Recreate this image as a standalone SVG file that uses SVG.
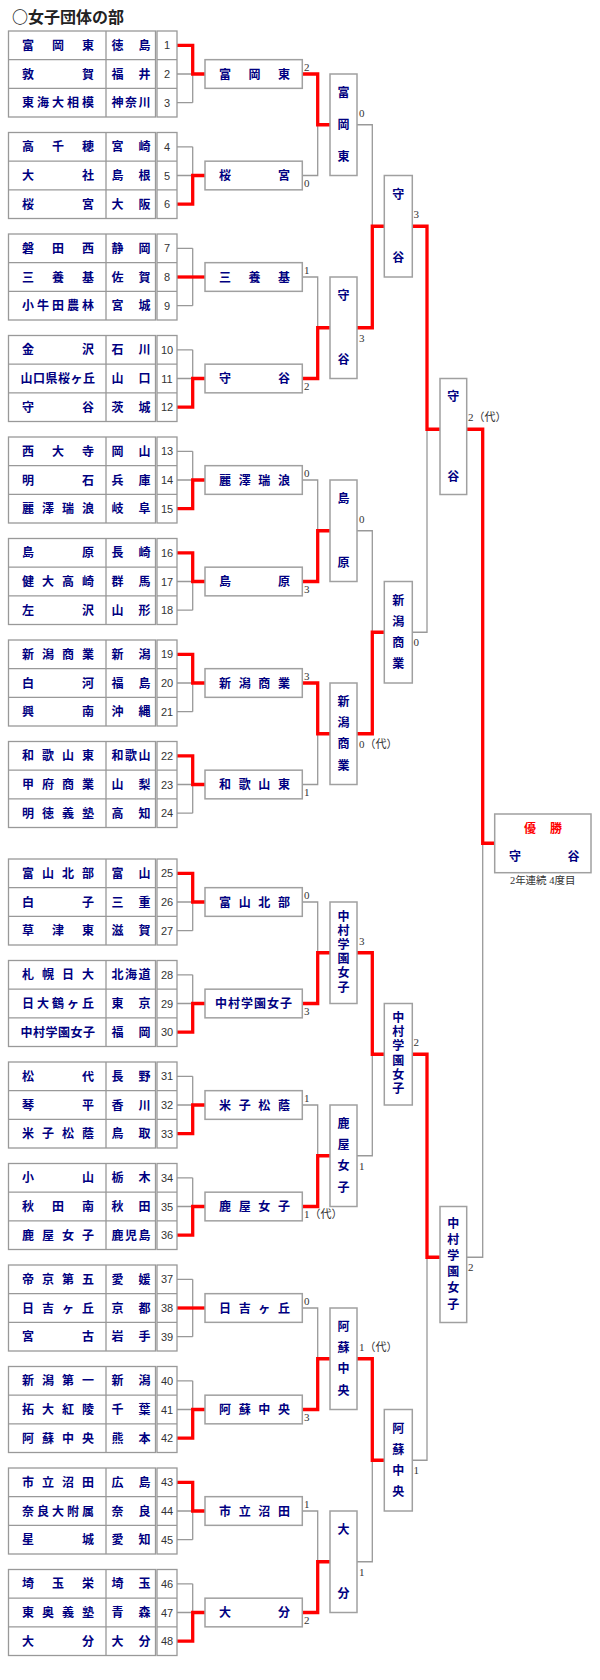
<svg xmlns="http://www.w3.org/2000/svg" xmlns:xlink="http://www.w3.org/1999/xlink" width="600" height="1680" viewBox="0 0 600 1680">
<style>
.tb{fill:#fff;stroke:#999;stroke-width:1.3}
.tl{fill:none;stroke:#999;stroke-width:1.3}
.bx{fill:#fff;stroke:#a0a0a0;stroke-width:1.5}
.nm{font-family:"Noto Sans CJK JP",sans-serif;font-size:12px;font-weight:bold;fill:#000080;text-anchor:middle}
.no{font-family:"Liberation Sans",Arial,sans-serif;font-size:11px;fill:#333;text-anchor:middle}
.sc{font-family:"Liberation Serif","Noto Sans CJK JP",serif;font-size:11px;fill:#333}
.ln{fill:none;stroke:#999;stroke-width:1.3}
.win{fill:none;stroke:#f00;stroke-width:3.3;stroke-linejoin:miter}
.ttl{font-family:"Noto Sans CJK JP",sans-serif;font-size:16px;font-weight:bold;fill:#222}
</style>
<defs>
<g id="frame">
<rect class="tb" x="8.5" y="0" width="147" height="86"/>
<rect class="tb" x="157" y="0" width="20" height="86"/>
<path class="tl" d="M8.5 28.67H155.5M8.5 57.33H155.5M106 0V86M157 28.67H177M157 57.33H177"/>
</g>
<path id="br" class="ln" d="M177 14.33H192.7M177 43H205M177 71.67H192.7M192.7 14.33V71.67"/>
</defs>
<rect width="600" height="1680" fill="#fff"/>
<text class="ttl" x="12" y="23">○女子団体の部</text>

<g id="connectors">
<g transform="translate(0,31)"><use href="#br"/><path class="win" d="M177 14.33H192.7V43H205"/></g>
<g transform="translate(0,132.5)"><use href="#br"/><path class="win" d="M177 71.67H192.7V43H205"/></g>
<g transform="translate(0,234)"><use href="#br"/><path class="win" d="M177 43H205"/></g>
<g transform="translate(0,335.5)"><use href="#br"/><path class="win" d="M177 71.67H192.7V43H205"/></g>
<g transform="translate(0,437)"><use href="#br"/><path class="win" d="M177 71.67H192.7V43H205"/></g>
<g transform="translate(0,538.5)"><use href="#br"/><path class="win" d="M177 14.33H192.7V43H205"/></g>
<g transform="translate(0,640)"><use href="#br"/><path class="win" d="M177 14.33H192.7V43H205"/></g>
<g transform="translate(0,741.5)"><use href="#br"/><path class="win" d="M177 14.33H192.7V43H205"/></g>
<g transform="translate(0,859)"><use href="#br"/><path class="win" d="M177 14.33H192.7V43H205"/></g>
<g transform="translate(0,960.5)"><use href="#br"/><path class="win" d="M177 71.67H192.7V43H205"/></g>
<g transform="translate(0,1062)"><use href="#br"/><path class="win" d="M177 71.67H192.7V43H205"/></g>
<g transform="translate(0,1163.5)"><use href="#br"/><path class="win" d="M177 71.67H192.7V43H205"/></g>
<g transform="translate(0,1265)"><use href="#br"/><path class="win" d="M177 43H205"/></g>
<g transform="translate(0,1366.5)"><use href="#br"/><path class="win" d="M177 71.67H192.7V43H205"/></g>
<g transform="translate(0,1468)"><use href="#br"/><path class="win" d="M177 14.33H192.7V43H205"/></g>
<g transform="translate(0,1569.5)"><use href="#br"/><path class="win" d="M177 71.67H192.7V43H205"/></g>
<path class="ln" d="M302.3 74H317.7V175.5H302.3M317.7 124.75H330M302.3 277H317.7V378.5H302.3M317.7 327.75H330M302.3 480H317.7V581.5H302.3M317.7 530.75H330M302.3 683H317.7V784.5H302.3M317.7 733.75H330M302.3 902H317.7V1003.5H302.3M317.7 952.75H330M302.3 1105H317.7V1206.5H302.3M317.7 1155.75H330M302.3 1308H317.7V1409.5H302.3M317.7 1358.75H330M302.3 1511H317.7V1612.5H302.3M317.7 1561.75H330"/>
<path class="ln" d="M357 124.75H372.3V327.75H357M372.3 226.25H384.3M357 530.75H372.3V733.75H357M372.3 632.25H384.3M357 952.75H372.3V1155.75H357M372.3 1054.25H384.3M357 1358.75H372.3V1561.75H357M372.3 1460.25H384.3"/>
<path class="ln" d="M412.3 226.25H427V632.25H412.3M427 429.25H440M412.3 1054.25H427V1460.25H412.3M427 1257.25H440"/>
<path class="ln" d="M466.7 429.25H482.7V1257.25H466.7M482.7 843.25H494.7"/>
<path class="win" d="M302.3 74H317.7V124.75H330M302.3 378.5H317.7V327.75H330M302.3 581.5H317.7V530.75H330M302.3 683H317.7V733.75H330M302.3 1003.5H317.7V952.75H330M302.3 1206.5H317.7V1155.75H330M302.3 1409.5H317.7V1358.75H330M302.3 1612.5H317.7V1561.75H330"/>
<path class="win" d="M357 327.75H372.3V226.25H384.3M357 733.75H372.3V632.25H384.3M357 952.75H372.3V1054.25H384.3M357 1358.75H372.3V1460.25H384.3"/>
<path class="win" d="M412.3 226.25H427V429.25H440M412.3 1054.25H427V1257.25H440"/>
<path class="win" d="M466.7 429.25H482.7V843.25H494.7"/>
</g>

<g id="t01" transform="translate(0,31)"><use href="#frame"/>
<text class="nm" x="28 58 88" y="18.8">富岡東</text><text class="nm" x="117.5 144.5" y="18.8">徳島</text><text class="no" x="167" y="18.3">1</text>
<text class="nm" x="28 88" y="47.5">敦賀</text><text class="nm" x="117.5 144.5" y="47.5">福井</text><text class="no" x="167" y="47">2</text>
<text class="nm" x="28 43 58 73 88" y="76.2">東海大相模</text><text class="nm" x="117.5 131 144.5" y="76.2">神奈川</text><text class="no" x="167" y="75.7">3</text></g>
<g id="t02" transform="translate(0,132.5)"><use href="#frame"/>
<text class="nm" x="28 58 88" y="18.8">高千穂</text><text class="nm" x="117.5 144.5" y="18.8">宮崎</text><text class="no" x="167" y="18.3">4</text>
<text class="nm" x="28 88" y="47.5">大社</text><text class="nm" x="117.5 144.5" y="47.5">島根</text><text class="no" x="167" y="47">5</text>
<text class="nm" x="28 88" y="76.2">桜宮</text><text class="nm" x="117.5 144.5" y="76.2">大阪</text><text class="no" x="167" y="75.7">6</text></g>
<g id="t03" transform="translate(0,234)"><use href="#frame"/>
<text class="nm" x="28 58 88" y="18.8">磐田西</text><text class="nm" x="117.5 144.5" y="18.8">静岡</text><text class="no" x="167" y="18.3">7</text>
<text class="nm" x="28 58 88" y="47.5">三養基</text><text class="nm" x="117.5 144.5" y="47.5">佐賀</text><text class="no" x="167" y="47">8</text>
<text class="nm" x="28 43 58 73 88" y="76.2">小牛田農林</text><text class="nm" x="117.5 144.5" y="76.2">宮城</text><text class="no" x="167" y="75.7">9</text></g>
<g id="t04" transform="translate(0,335.5)"><use href="#frame"/>
<text class="nm" x="28 88" y="18.8">金沢</text><text class="nm" x="117.5 144.5" y="18.8">石川</text><text class="no" x="167" y="18.3">10</text>
<text class="nm" x="26.5 39 51.5 64 76.5 89" y="47.5">山口県桜ヶ丘</text><text class="nm" x="117.5 144.5" y="47.5">山口</text><text class="no" x="167" y="47">11</text>
<text class="nm" x="28 88" y="76.2">守谷</text><text class="nm" x="117.5 144.5" y="76.2">茨城</text><text class="no" x="167" y="75.7">12</text></g>
<g id="t05" transform="translate(0,437)"><use href="#frame"/>
<text class="nm" x="28 58 88" y="18.8">西大寺</text><text class="nm" x="117.5 144.5" y="18.8">岡山</text><text class="no" x="167" y="18.3">13</text>
<text class="nm" x="28 88" y="47.5">明石</text><text class="nm" x="117.5 144.5" y="47.5">兵庫</text><text class="no" x="167" y="47">14</text>
<text class="nm" x="28 48 68 88" y="76.2">麗澤瑞浪</text><text class="nm" x="117.5 144.5" y="76.2">岐阜</text><text class="no" x="167" y="75.7">15</text></g>
<g id="t06" transform="translate(0,538.5)"><use href="#frame"/>
<text class="nm" x="28 88" y="18.8">島原</text><text class="nm" x="117.5 144.5" y="18.8">長崎</text><text class="no" x="167" y="18.3">16</text>
<text class="nm" x="28 48 68 88" y="47.5">健大高崎</text><text class="nm" x="117.5 144.5" y="47.5">群馬</text><text class="no" x="167" y="47">17</text>
<text class="nm" x="28 88" y="76.2">左沢</text><text class="nm" x="117.5 144.5" y="76.2">山形</text><text class="no" x="167" y="75.7">18</text></g>
<g id="t07" transform="translate(0,640)"><use href="#frame"/>
<text class="nm" x="28 48 68 88" y="18.8">新潟商業</text><text class="nm" x="117.5 144.5" y="18.8">新潟</text><text class="no" x="167" y="18.3">19</text>
<text class="nm" x="28 88" y="47.5">白河</text><text class="nm" x="117.5 144.5" y="47.5">福島</text><text class="no" x="167" y="47">20</text>
<text class="nm" x="28 88" y="76.2">興南</text><text class="nm" x="117.5 144.5" y="76.2">沖縄</text><text class="no" x="167" y="75.7">21</text></g>
<g id="t08" transform="translate(0,741.5)"><use href="#frame"/>
<text class="nm" x="28 48 68 88" y="18.8">和歌山東</text><text class="nm" x="117.5 131 144.5" y="18.8">和歌山</text><text class="no" x="167" y="18.3">22</text>
<text class="nm" x="28 48 68 88" y="47.5">甲府商業</text><text class="nm" x="117.5 144.5" y="47.5">山梨</text><text class="no" x="167" y="47">23</text>
<text class="nm" x="28 48 68 88" y="76.2">明徳義塾</text><text class="nm" x="117.5 144.5" y="76.2">高知</text><text class="no" x="167" y="75.7">24</text></g>
<g id="t09" transform="translate(0,859)"><use href="#frame"/>
<text class="nm" x="28 48 68 88" y="18.8">富山北部</text><text class="nm" x="117.5 144.5" y="18.8">富山</text><text class="no" x="167" y="18.3">25</text>
<text class="nm" x="28 88" y="47.5">白子</text><text class="nm" x="117.5 144.5" y="47.5">三重</text><text class="no" x="167" y="47">26</text>
<text class="nm" x="28 58 88" y="76.2">草津東</text><text class="nm" x="117.5 144.5" y="76.2">滋賀</text><text class="no" x="167" y="75.7">27</text></g>
<g id="t10" transform="translate(0,960.5)"><use href="#frame"/>
<text class="nm" x="28 48 68 88" y="18.8">札幌日大</text><text class="nm" x="117.5 131 144.5" y="18.8">北海道</text><text class="no" x="167" y="18.3">28</text>
<text class="nm" x="28 43 58 73 88" y="47.5">日大鶴ヶ丘</text><text class="nm" x="117.5 144.5" y="47.5">東京</text><text class="no" x="167" y="47">29</text>
<text class="nm" x="26.5 39 51.5 64 76.5 89" y="76.2">中村学園女子</text><text class="nm" x="117.5 144.5" y="76.2">福岡</text><text class="no" x="167" y="75.7">30</text></g>
<g id="t11" transform="translate(0,1062)"><use href="#frame"/>
<text class="nm" x="28 88" y="18.8">松代</text><text class="nm" x="117.5 144.5" y="18.8">長野</text><text class="no" x="167" y="18.3">31</text>
<text class="nm" x="28 88" y="47.5">琴平</text><text class="nm" x="117.5 144.5" y="47.5">香川</text><text class="no" x="167" y="47">32</text>
<text class="nm" x="28 48 68 88" y="76.2">米子松蔭</text><text class="nm" x="117.5 144.5" y="76.2">鳥取</text><text class="no" x="167" y="75.7">33</text></g>
<g id="t12" transform="translate(0,1163.5)"><use href="#frame"/>
<text class="nm" x="28 88" y="18.8">小山</text><text class="nm" x="117.5 144.5" y="18.8">栃木</text><text class="no" x="167" y="18.3">34</text>
<text class="nm" x="28 58 88" y="47.5">秋田南</text><text class="nm" x="117.5 144.5" y="47.5">秋田</text><text class="no" x="167" y="47">35</text>
<text class="nm" x="28 48 68 88" y="76.2">鹿屋女子</text><text class="nm" x="117.5 131 144.5" y="76.2">鹿児島</text><text class="no" x="167" y="75.7">36</text></g>
<g id="t13" transform="translate(0,1265)"><use href="#frame"/>
<text class="nm" x="28 48 68 88" y="18.8">帝京第五</text><text class="nm" x="117.5 144.5" y="18.8">愛媛</text><text class="no" x="167" y="18.3">37</text>
<text class="nm" x="28 48 68 88" y="47.5">日吉ヶ丘</text><text class="nm" x="117.5 144.5" y="47.5">京都</text><text class="no" x="167" y="47">38</text>
<text class="nm" x="28 88" y="76.2">宮古</text><text class="nm" x="117.5 144.5" y="76.2">岩手</text><text class="no" x="167" y="75.7">39</text></g>
<g id="t14" transform="translate(0,1366.5)"><use href="#frame"/>
<text class="nm" x="28 48 68 88" y="18.8">新潟第一</text><text class="nm" x="117.5 144.5" y="18.8">新潟</text><text class="no" x="167" y="18.3">40</text>
<text class="nm" x="28 48 68 88" y="47.5">拓大紅陵</text><text class="nm" x="117.5 144.5" y="47.5">千葉</text><text class="no" x="167" y="47">41</text>
<text class="nm" x="28 48 68 88" y="76.2">阿蘇中央</text><text class="nm" x="117.5 144.5" y="76.2">熊本</text><text class="no" x="167" y="75.7">42</text></g>
<g id="t15" transform="translate(0,1468)"><use href="#frame"/>
<text class="nm" x="28 48 68 88" y="18.8">市立沼田</text><text class="nm" x="117.5 144.5" y="18.8">広島</text><text class="no" x="167" y="18.3">43</text>
<text class="nm" x="28 43 58 73 88" y="47.5">奈良大附属</text><text class="nm" x="117.5 144.5" y="47.5">奈良</text><text class="no" x="167" y="47">44</text>
<text class="nm" x="28 88" y="76.2">星城</text><text class="nm" x="117.5 144.5" y="76.2">愛知</text><text class="no" x="167" y="75.7">45</text></g>
<g id="t16" transform="translate(0,1569.5)"><use href="#frame"/>
<text class="nm" x="28 58 88" y="18.8">埼玉栄</text><text class="nm" x="117.5 144.5" y="18.8">埼玉</text><text class="no" x="167" y="18.3">46</text>
<text class="nm" x="28 48 68 88" y="47.5">東奥義塾</text><text class="nm" x="117.5 144.5" y="47.5">青森</text><text class="no" x="167" y="47">47</text>
<text class="nm" x="28 88" y="76.2">大分</text><text class="nm" x="117.5 144.5" y="76.2">大分</text><text class="no" x="167" y="75.7">48</text></g>

<g id="r2-01" transform="translate(0,31)"><rect class="bx" x="205" y="28.67" width="97.3" height="28.67"/><text class="nm" x="225 254.5 284" y="47.5">富岡東</text></g>
<g id="r2-02" transform="translate(0,132.5)"><rect class="bx" x="205" y="28.67" width="97.3" height="28.67"/><text class="nm" x="225 284" y="47.5">桜宮</text></g>
<g id="r2-03" transform="translate(0,234)"><rect class="bx" x="205" y="28.67" width="97.3" height="28.67"/><text class="nm" x="225 254.5 284" y="47.5">三養基</text></g>
<g id="r2-04" transform="translate(0,335.5)"><rect class="bx" x="205" y="28.67" width="97.3" height="28.67"/><text class="nm" x="225 284" y="47.5">守谷</text></g>
<g id="r2-05" transform="translate(0,437)"><rect class="bx" x="205" y="28.67" width="97.3" height="28.67"/><text class="nm" x="225 244.7 264.3 284" y="47.5">麗澤瑞浪</text></g>
<g id="r2-06" transform="translate(0,538.5)"><rect class="bx" x="205" y="28.67" width="97.3" height="28.67"/><text class="nm" x="225 284" y="47.5">島原</text></g>
<g id="r2-07" transform="translate(0,640)"><rect class="bx" x="205" y="28.67" width="97.3" height="28.67"/><text class="nm" x="225 244.7 264.3 284" y="47.5">新潟商業</text></g>
<g id="r2-08" transform="translate(0,741.5)"><rect class="bx" x="205" y="28.67" width="97.3" height="28.67"/><text class="nm" x="225 244.7 264.3 284" y="47.5">和歌山東</text></g>
<g id="r2-09" transform="translate(0,859)"><rect class="bx" x="205" y="28.67" width="97.3" height="28.67"/><text class="nm" x="225 244.7 264.3 284" y="47.5">富山北部</text></g>
<g id="r2-10" transform="translate(0,960.5)"><rect class="bx" x="205" y="28.67" width="97.3" height="28.67"/><text class="nm" x="221 234 247 260 273 286" y="47.5">中村学園女子</text></g>
<g id="r2-11" transform="translate(0,1062)"><rect class="bx" x="205" y="28.67" width="97.3" height="28.67"/><text class="nm" x="225 244.7 264.3 284" y="47.5">米子松蔭</text></g>
<g id="r2-12" transform="translate(0,1163.5)"><rect class="bx" x="205" y="28.67" width="97.3" height="28.67"/><text class="nm" x="225 244.7 264.3 284" y="47.5">鹿屋女子</text></g>
<g id="r2-13" transform="translate(0,1265)"><rect class="bx" x="205" y="28.67" width="97.3" height="28.67"/><text class="nm" x="225 244.7 264.3 284" y="47.5">日吉ヶ丘</text></g>
<g id="r2-14" transform="translate(0,1366.5)"><rect class="bx" x="205" y="28.67" width="97.3" height="28.67"/><text class="nm" x="225 244.7 264.3 284" y="47.5">阿蘇中央</text></g>
<g id="r2-15" transform="translate(0,1468)"><rect class="bx" x="205" y="28.67" width="97.3" height="28.67"/><text class="nm" x="225 244.7 264.3 284" y="47.5">市立沼田</text></g>
<g id="r2-16" transform="translate(0,1569.5)"><rect class="bx" x="205" y="28.67" width="97.3" height="28.67"/><text class="nm" x="225 284" y="47.5">大分</text></g>

<g id="r3-1"><rect class="bx" x="330" y="74" width="27" height="101.5"/><text class="nm" x="343.5 343.5 343.5" y="97 128.75 160.5">富岡東</text></g>
<g id="r3-2"><rect class="bx" x="330" y="277" width="27" height="101.5"/><text class="nm" x="343.5 343.5" y="300 363.5">守谷</text></g>
<g id="r3-3"><rect class="bx" x="330" y="480" width="27" height="101.5"/><text class="nm" x="343.5 343.5" y="503 566.5">島原</text></g>
<g id="r3-4"><rect class="bx" x="330" y="683" width="27" height="101.5"/><text class="nm" x="343.5 343.5 343.5 343.5" y="706 727.2 748.3 769.5">新潟商業</text></g>
<g id="r3-5"><rect class="bx" x="330" y="902" width="27" height="101.5"/><text class="nm" x="343.5 343.5 343.5 343.5 343.5 343.5" y="920.5 934.7 948.9 963.1 977.3 991.5">中村学園女子</text></g>
<g id="r3-6"><rect class="bx" x="330" y="1105" width="27" height="101.5"/><text class="nm" x="343.5 343.5 343.5 343.5" y="1128 1149.2 1170.3 1191.5">鹿屋女子</text></g>
<g id="r3-7"><rect class="bx" x="330" y="1308" width="27" height="101.5"/><text class="nm" x="343.5 343.5 343.5 343.5" y="1331 1352.2 1373.3 1394.5">阿蘇中央</text></g>
<g id="r3-8"><rect class="bx" x="330" y="1511" width="27" height="101.5"/><text class="nm" x="343.5 343.5" y="1534 1597.5">大分</text></g>

<g id="r4-1"><rect class="bx" x="384.3" y="175.5" width="28" height="101.5"/><text class="nm" x="398.3 398.3" y="198.5 262">守谷</text></g>
<g id="r4-2"><rect class="bx" x="384.3" y="581.5" width="28" height="101.5"/><text class="nm" x="398.3 398.3 398.3 398.3" y="604.5 625.7 646.8 668">新潟商業</text></g>
<g id="r4-3"><rect class="bx" x="384.3" y="1003.5" width="28" height="101.5"/><text class="nm" x="398.3 398.3 398.3 398.3 398.3 398.3" y="1022 1036.2 1050.4 1064.6 1078.8 1093">中村学園女子</text></g>
<g id="r4-4"><rect class="bx" x="384.3" y="1409.5" width="28" height="101.5"/><text class="nm" x="398.3 398.3 398.3 398.3" y="1432.5 1453.7 1474.8 1496">阿蘇中央</text></g>

<g id="r5-1"><rect class="bx" x="440" y="378.5" width="26.7" height="116"/><text class="nm" x="453.3 453.3" y="401 481">守谷</text></g>
<g id="r5-2"><rect class="bx" x="440" y="1206.5" width="26.7" height="116"/><text class="nm" x="453.3 453.3 453.3 453.3 453.3 453.3" y="1227.6 1243.8 1260 1276.2 1292.4 1308.6">中村学園女子</text></g>

<g id="champion"><rect class="bx" x="494.7" y="814" width="96.3" height="58.7"/>
<text class="nm" x="530 556" y="832.5" style="fill:#f00">優勝</text>
<text class="nm" x="515 573.5" y="860.5">守谷</text>
<text x="542.7" y="884" style="font-family:'Liberation Serif','Noto Sans CJK JP',serif;font-size:10.5px;fill:#333;text-anchor:middle">2年連続 4度目</text></g>

<g id="scores">
<text class="sc" x="304" y="71">2</text>
<text class="sc" x="304" y="186.5">0</text>
<text class="sc" x="304" y="274">1</text>
<text class="sc" x="304" y="389.5">2</text>
<text class="sc" x="304" y="477">0</text>
<text class="sc" x="304" y="592.5">3</text>
<text class="sc" x="304" y="680">3</text>
<text class="sc" x="304" y="795.5">1</text>
<text class="sc" x="304" y="899">0</text>
<text class="sc" x="304" y="1014.5">3</text>
<text class="sc" x="304" y="1102">1</text>
<text class="sc" x="304" y="1217.5">1（代）</text>
<text class="sc" x="304" y="1305">0</text>
<text class="sc" x="304" y="1420.5">3</text>
<text class="sc" x="304" y="1508">1</text>
<text class="sc" x="304" y="1623.5">2</text>
<text class="sc" x="359" y="116.75">0</text>
<text class="sc" x="359" y="341.75">3</text>
<text class="sc" x="359" y="522.75">0</text>
<text class="sc" x="359" y="747.75">0（代）</text>
<text class="sc" x="359" y="944.75">3</text>
<text class="sc" x="359" y="1169.75">1</text>
<text class="sc" x="359" y="1350.75">1（代）</text>
<text class="sc" x="359" y="1575.75">1</text>
<text class="sc" x="413.5" y="218.25">3</text>
<text class="sc" x="413.5" y="646.25">0</text>
<text class="sc" x="413.5" y="1046.25">2</text>
<text class="sc" x="413.5" y="1474.25">1</text>
<text class="sc" x="468" y="421.25">2（代）</text>
<text class="sc" x="468" y="1271.25">2</text>
</g>
</svg>
